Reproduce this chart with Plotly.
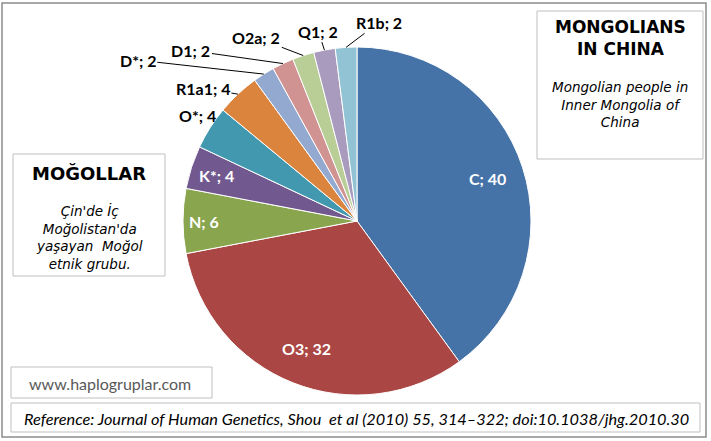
import math
import plotly.graph_objects as go

labels = ["C", "O3", "N", "K*", "O*", "R1a1", "D*", "D1", "O2a", "Q1", "R1b"]
values = [40, 32, 6, 4, 4, 4, 2, 2, 2, 2, 2]
colors = ["#4572A7", "#AA4643", "#89A54E", "#71588F", "#4198AF", "#DB843D",
          "#93A9CF", "#D19392", "#B9CD96", "#A99BBD", "#92C3D5"]

# label styling: inside (white) or outside (black, with leader)
inside = [True, True, True, True, False, False, False, False, False, False, False]
inside_rfrac = [0.79, 0.79, 0.88, 0.85]
# outside label offsets (px) of label centre from the slice's outer edge midpoint
out_offsets = {"O*": (-13, -12), "R1a1": (-35, -6), "D*": (-126, -14), "D1": (-92, -13),
               "O2a": (-47, -18), "Q1": (-6, -19), "R1b": (33, -25)}
no_leader = {"O*"}

W, H = 711, 441
cx, cy, r = 357, 221, 174


def px(x):
    return x / W


def py(y):
    return 1 - y / H


fig = go.Figure(go.Pie(
    labels=labels, values=values, sort=False, direction="clockwise", rotation=0,
    marker=dict(colors=colors, line=dict(color="white", width=1)),
    textinfo="none", automargin=False, showlegend=False, hoverinfo="label+value",
    domain=dict(x=[px(cx - r), px(cx + r)], y=[py(cy + r), py(cy - r)]),
))

label_font = "Lato, Open Sans, sans-serif"
annotations = []
total = sum(values)
cum = 0
for lab, v, ins in zip(labels, values, inside):
    mid = (cum + v / 2) / total * 2 * math.pi
    cum += v
    txt = f"<b>{lab}; {v}</b>"
    if ins:
        f = inside_rfrac[labels.index(lab)]
        x = cx + f * r * math.sin(mid)
        y = cy - f * r * math.cos(mid)
        annotations.append(dict(x=px(x), y=py(y), text=txt, showarrow=False,
                                font=dict(family=label_font, size=16, color="white"),
                                xanchor="center", yanchor="middle"))
    else:
        ex = cx + r * math.sin(mid)
        ey = cy - r * math.cos(mid)
        ax, ay = out_offsets[lab]
        annotations.append(dict(x=px(ex), y=py(ey), ax=ax, ay=ay, axref="pixel", ayref="pixel",
                                text=txt, showarrow=True, arrowhead=0,
                                arrowwidth=0.1 if lab in no_leader else 1,
                                arrowcolor="rgba(0,0,0,0)" if lab in no_leader else "black",
                                standoff=0, startstandoff=0,
                                font=dict(family=label_font, size=16, color="black"),
                                xanchor="center", yanchor="middle"))

shapes = [
    dict(type="rect", xref="paper", yref="paper", x0=px(2), x1=px(706), y0=py(437), y1=py(3),
         line=dict(color="#8C8C8C", width=1.5)),
    dict(type="rect", xref="paper", yref="paper", x0=px(537), x1=px(703), y0=py(159), y1=py(11),
         line=dict(color="#BFBFBF", width=1)),
    dict(type="rect", xref="paper", yref="paper", x0=px(13), x1=px(165), y0=py(276), y1=py(154),
         line=dict(color="#BFBFBF", width=1)),
    dict(type="rect", xref="paper", yref="paper", x0=px(11), x1=px(212), y0=py(398), y1=py(367),
         line=dict(color="#BFBFBF", width=1)),
    dict(type="rect", xref="paper", yref="paper", x0=px(11), x1=px(700), y0=py(432), y1=py(403),
         line=dict(color="#BFBFBF", width=1)),
]

box_font = "DejaVu Sans, Verdana, sans-serif"
annotations += [
    dict(x=px(620), y=py(38), text="<b>MONGOLIANS<br>IN CHINA</b>", showarrow=False,
         font=dict(family=box_font, size=17, color="black"), xanchor="center", yanchor="middle"),
    dict(x=px(620), y=py(104), text="<i>Mongolian people in<br>Inner Mongolia of<br>China</i>", showarrow=False,
         font=dict(family=box_font, size=13.5, color="black"), xanchor="center", yanchor="middle"),
    dict(x=px(89), y=py(173), text="<b>MOĞOLLAR</b>", showarrow=False,
         font=dict(family=box_font, size=18, color="black"), xanchor="center", yanchor="middle"),
    dict(x=px(89), y=py(237), text="<i>Çin'de İç<br>Moğolistan'da<br>yaşayan  Moğol<br>etnik grubu.</i>", showarrow=False,
         font=dict(family=box_font, size=13.5, color="black"), xanchor="center", yanchor="middle"),
    dict(x=px(110), y=py(383), text="www.haplogruplar.com", showarrow=False,
         font=dict(family=label_font, size=16, color="#595959"), xanchor="center", yanchor="middle"),
    dict(x=px(356), y=py(418), text="<i>Reference: Journal of Human Genetics, Shou  et al (2010) 55, 314–322; doi:10.1038/jhg.2010.30</i>",
         showarrow=False, font=dict(family=label_font, size=16.3, color="black"),
         xanchor="center", yanchor="middle"),
]

fig.update_layout(
    width=W, height=H, margin=dict(l=0, r=0, t=0, b=0),
    paper_bgcolor="white", plot_bgcolor="white",
    shapes=shapes, annotations=annotations,
)

fig.write_html("out.html", config={"displayModeBar": False},
               post_script="document.body.style.margin='0';document.body.style.overflow='hidden';")
